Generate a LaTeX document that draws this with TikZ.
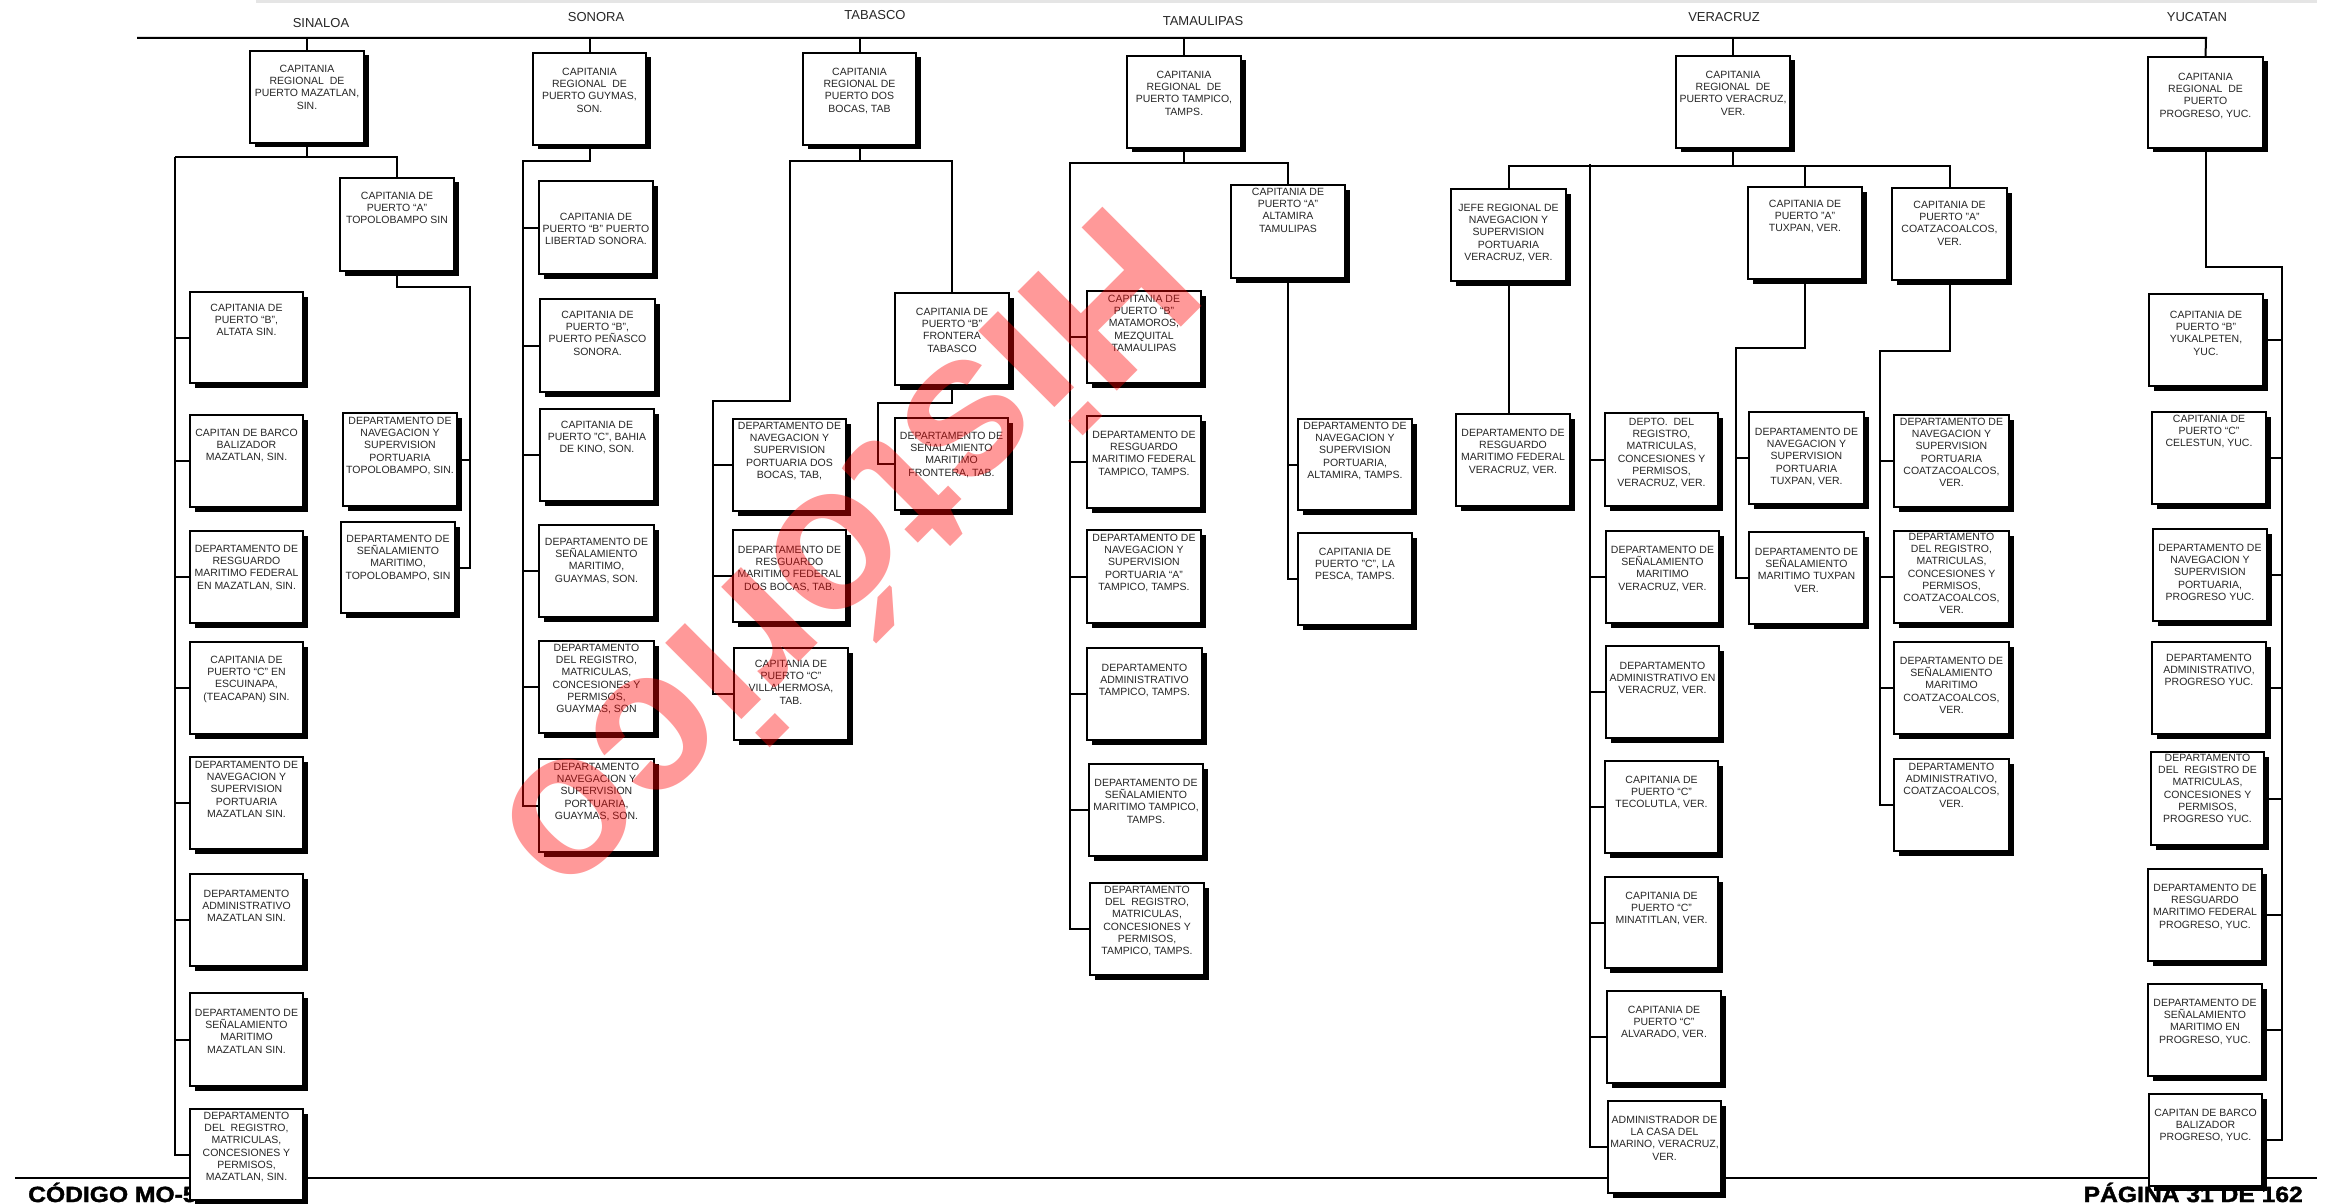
\documentclass[tikz,border=0pt]{standalone}
\usepackage{fontspec}
\setmainfont{Liberation Sans}
\usetikzlibrary{calc}
\pgfdeclarelayer{bg}
\pgfdeclarelayer{paper}
\pgfsetlayers{paper,bg,main}
\tikzset{
 boxst/.style={draw=black, line width=1.5pt, fill=white, inner sep=0pt, outer sep=0pt},
 txt/.style={font=\fontsize{10.5}{12.2}\selectfont, align=center, inner sep=0pt, text=black!85},
 conn/.style={line width=2pt, line join=miter},
 head/.style={font=\fontsize{13}{15}\selectfont, inner sep=0pt, text=black!85},
 foot/.style={font=\fontsize{22}{24}\selectfont\bfseries\addfontfeatures{FakeBold=1.6}, inner sep=0pt, xscale=1.12},
 wm/.style={rotate=-135, font=\fontsize{204}{204}\selectfont\bfseries, text=red, opacity=0.4, inner sep=0pt}
}
% #1 text pad, #2 name, #3 x1, #4 y1, #5 x2, #6 y2, #7 text
\newcommand\bx[7][14]{%
  \fill[black] ({#3+4.5},{#4+4.5}) rectangle ({#5+4.5},{#6+4.5});
  \node[boxst, anchor=north west, minimum width={(#5-#3)*1pt}, minimum height={(#6-#4)*1pt}] (#2) at (#3,#4) {};
  \node[txt, anchor=north] (#2t) at ([yshift=-#1pt]#2.north) {#7};
}
\begin{document}
\begin{tikzpicture}[x={(1pt,0)}, y={(0,-1pt)}]
\begin{pgfonlayer}{paper}
\fill[white] (0,0) rectangle (2346,1204);
\end{pgfonlayer}
\useasboundingbox (0,0) rectangle (2346,1204);

% headings
\node[head] (hsin) at (321,23) {SINALOA};
\node[head] (hson) at (596,17) {SONORA};
\node[head] (htab) at (875,15) {TABASCO};
\node[head] (htam) at (1203,21) {TAMAULIPAS};
\node[head] (hver) at (1724,17) {VERACRUZ};
\node[head] (hyuc) at (2197,17) {YUCATAN};

% ---------------- SINALOA
\bx{sinreg}{250}{51}{364}{143}{CAPITANIA\\REGIONAL\ \ DE\\PUERTO MAZATLAN,\\SIN.}
\bx{topo}{340}{178}{454}{271}{CAPITANIA DE\\PUERTO “A”\\TOPOLOBAMPO SIN}
\bx[12]{altata}{190}{292}{303}{383}{CAPITANIA DE\\PUERTO “B”,\\ALTATA SIN.}
\bx{barco}{190}{415}{303}{507}{CAPITAN DE BARCO\\BALIZADOR\\MAZATLAN, SIN.}
\bx{resmaz}{190}{531}{303}{623}{DEPARTAMENTO DE\\RESGUARDO\\MARITIMO FEDERAL\\EN MAZATLAN, SIN.}
\bx{escui}{190}{642}{303}{734}{CAPITANIA DE\\PUERTO “C” EN\\ESCUINAPA,\\(TEACAPAN) SIN.}
\bx[4]{navmaz}{190}{757}{303}{849}{DEPARTAMENTO DE\\NAVEGACION Y\\SUPERVISION\\PORTUARIA\\MAZATLAN SIN.}
\bx[16]{admmaz}{190}{874}{303}{966}{DEPARTAMENTO\\ADMINISTRATIVO\\MAZATLAN SIN.}
\bx[16]{senmaz}{190}{993}{303}{1086}{DEPARTAMENTO DE\\SEÑALAMIENTO\\MARITIMO\\MAZATLAN SIN.}
\bx[3]{regmaz}{190}{1109}{303}{1200}{DEPARTAMENTO\\DEL\ \ REGISTRO,\\MATRICULAS,\\CONCESIONES Y\\PERMISOS,\\MAZATLAN, SIN.}
\bx[4]{navtopo}{343}{413}{457}{506}{DEPARTAMENTO DE\\NAVEGACION Y\\SUPERVISION\\PORTUARIA\\TOPOLOBAMPO, SIN.}
\bx[13]{sentopo}{341}{522}{455}{613}{DEPARTAMENTO DE\\SEÑALAMIENTO\\MARITIMO,\\TOPOLOBAMPO, SIN}

% ---------------- SONORA
\bx[15]{sonreg}{533}{53}{646}{145}{CAPITANIA\\REGIONAL\ \ DE\\PUERTO GUYMAS,\\SON.}
\bx[32]{libertad}{539}{181}{653}{274}{CAPITANIA DE\\PUERTO “B” PUERTO\\LIBERTAD SONORA.}
\bx[12]{penasco}{540}{299}{655}{392}{CAPITANIA DE\\PUERTO “B”,\\PUERTO PEÑASCO\\SONORA.}
\bx[12]{kino}{540}{409}{654}{501}{CAPITANIA DE\\PUERTO "C", BAHIA\\DE KINO, SON.}
\bx[13]{sengua}{539}{525}{654}{617}{DEPARTAMENTO DE\\SEÑALAMIENTO\\MARITIMO,\\GUAYMAS, SON.}
\bx[3]{reggua}{539}{641}{654}{733}{DEPARTAMENTO\\DEL REGISTRO,\\MATRICULAS,\\CONCESIONES Y\\PERMISOS,\\GUAYMAS, SON}
\bx[4]{navgua}{539}{759}{654}{852}{DEPARTAMENTO\\NAVEGACION Y\\SUPERVISION\\PORTUARIA,\\GUAYMAS, SON.}

% ---------------- TABASCO
\bx[15]{tabreg}{803}{53}{916}{145}{CAPITANIA\\REGIONAL DE\\PUERTO DOS\\BOCAS, TAB}
\bx[15]{frontera}{895}{293}{1009}{385}{CAPITANIA DE\\PUERTO “B”\\FRONTERA\\TABASCO}
\bx{senfront}{895}{418}{1008}{510}{DEPARTAMENTO DE\\SEÑALAMIENTO\\MARITIMO\\FRONTERA, TAB.}
\bx[3]{navdos}{733}{419}{846}{511}{DEPARTAMENTO DE\\NAVEGACION Y\\SUPERVISION\\PORTUARIA DOS\\BOCAS, TAB,}
\bx[16]{resdos}{733}{530}{846}{622}{DEPARTAMENTO DE\\RESGUARDO\\MARITIMO FEDERAL\\DOS BOCAS, TAB.}
\bx[12]{villa}{734}{648}{848}{740}{CAPITANIA DE\\PUERTO “C”\\VILLAHERMOSA,\\TAB.}

% ---------------- TAMAULIPAS
\bx[15]{tamreg}{1127}{56}{1241}{148}{CAPITANIA\\REGIONAL\ \ DE\\PUERTO TAMPICO,\\TAMPS.}
\bx[3]{altamira}{1231}{185}{1345}{278}{CAPITANIA DE\\PUERTO “A”\\ALTAMIRA\\TAMULIPAS}
\bx[4]{matamoros}{1087}{291}{1201}{383}{CAPITANIA DE\\PUERTO “B”\\MATAMOROS,\\MEZQUITAL\\TAMAULIPAS}
\bx[15]{restam}{1087}{416}{1201}{508}{DEPARTAMENTO DE\\RESGUARDO\\MARITIMO FEDERAL\\TAMPICO, TAMPS.}
\bx[4]{navtam}{1087}{530}{1201}{623}{DEPARTAMENTO DE\\NAVEGACION Y\\SUPERVISION\\PORTUARIA “A”\\TAMPICO, TAMPS.}
\bx[16]{admtam}{1087}{648}{1202}{740}{DEPARTAMENTO\\ADMINISTRATIVO\\TAMPICO, TAMPS.}
\bx[15]{sentam}{1089}{764}{1203}{856}{DEPARTAMENTO DE\\SEÑALAMIENTO\\MARITIMO TAMPICO,\\TAMPS.}
\bx[3]{regtam}{1090}{883}{1204}{975}{DEPARTAMENTO\\DEL\ \ REGISTRO,\\MATRICULAS,\\CONCESIONES Y\\PERMISOS,\\TAMPICO, TAMPS.}
\bx[3]{navalt}{1298}{419}{1412}{510}{DEPARTAMENTO DE\\NAVEGACION Y\\SUPERVISION\\PORTUARIA,\\ALTAMIRA, TAMPS.}
\bx[15]{pesca}{1298}{533}{1412}{625}{CAPITANIA DE\\PUERTO "C", LA\\PESCA, TAMPS.}

% ---------------- VERACRUZ
\bx[15]{verreg}{1676}{56}{1790}{148}{CAPITANIA\\REGIONAL\ \ DE\\PUERTO VERACRUZ,\\VER.}
\bx[15]{jefe}{1451}{189}{1566}{281}{JEFE REGIONAL DE\\NAVEGACION Y\\SUPERVISION\\PORTUARIA\\VERACRUZ, VER.}
\bx[15]{resver}{1456}{414}{1570}{506}{DEPARTAMENTO DE\\RESGUARDO\\MARITIMO FEDERAL\\VERACRUZ, VER.}
\bx[5]{regver}{1605}{413}{1718}{506}{DEPTO.\ \ DEL\\REGISTRO,\\MATRICULAS,\\CONCESIONES Y\\PERMISOS,\\VERACRUZ, VER.}
\bx[15]{senver}{1606}{531}{1719}{623}{DEPARTAMENTO DE\\SEÑALAMIENTO\\MARITIMO\\VERACRUZ, VER.}
\bx[16]{admver}{1606}{646}{1719}{738}{DEPARTAMENTO\\ADMINISTRATIVO EN\\VERACRUZ, VER.}
\bx[15]{tecolutla}{1605}{761}{1718}{853}{CAPITANIA DE\\PUERTO “C”\\TECOLUTLA, VER.}
\bx[15]{minatitlan}{1605}{877}{1718}{968}{CAPITANIA DE\\PUERTO “C”\\MINATITLAN, VER.}
\bx[15]{alvarado}{1607}{991}{1721}{1083}{CAPITANIA DE\\PUERTO “C”\\ALVARADO, VER.}
\bx[15]{casa}{1608}{1101}{1721}{1193}{ADMINISTRADOR DE\\LA CASA DEL\\MARINO, VERACRUZ,\\VER.}
\bx[13]{tuxpan}{1748}{187}{1862}{279}{CAPITANIA DE\\PUERTO "A"\\TUXPAN, VER.}
\bx[16]{navtux}{1749}{412}{1864}{504}{DEPARTAMENTO DE\\NAVEGACION Y\\SUPERVISION\\PORTUARIA\\TUXPAN, VER.}
\bx[16]{sentux}{1749}{532}{1864}{624}{DEPARTAMENTO DE\\SEÑALAMIENTO\\MARITIMO TUXPAN\\VER.}
\bx[13]{coatza}{1892}{188}{2007}{280}{CAPITANIA DE\\PUERTO "A"\\COATZACOALCOS,\\VER.}
\bx[3]{navcoa}{1894}{415}{2009}{507}{DEPARTAMENTO DE\\NAVEGACION Y\\SUPERVISION\\PORTUARIA\\COATZACOALCOS,\\VER.}
\bx[2]{regcoa}{1894}{531}{2009}{623}{DEPARTAMENTO\\DEL REGISTRO,\\MATRICULAS,\\CONCESIONES Y\\PERMISOS,\\COATZACOALCOS,\\VER.}
\bx[15]{sencoa}{1894}{642}{2009}{734}{DEPARTAMENTO DE\\SEÑALAMIENTO\\MARITIMO\\COATZACOALCOS,\\VER.}
\bx[4]{admcoa}{1894}{759}{2009}{851}{DEPARTAMENTO\\ADMINISTRATIVO,\\COATZACOALCOS,\\VER.}

% ---------------- YUCATAN
\bx[16]{yucreg}{2148}{57}{2263}{148}{CAPITANIA\\REGIONAL\ \ DE\\PUERTO\\PROGRESO, YUC.}
\bx[17]{yuka}{2149}{294}{2263}{386}{CAPITANIA DE\\PUERTO “B”\\YUKALPETEN,\\YUC.}
\bx[3]{celestun}{2152}{412}{2266}{504}{CAPITANIA DE\\PUERTO “C”\\CELESTUN, YUC.}
\bx[15]{navpro}{2153}{529}{2267}{621}{DEPARTAMENTO DE\\NAVEGACION Y\\SUPERVISION\\PORTUARIA,\\PROGRESO YUC.}
\bx[12]{admpro}{2152}{642}{2266}{734}{DEPARTAMENTO\\ADMINISTRATIVO,\\PROGRESO YUC.}
\bx[2]{regpro}{2151}{752}{2264}{845}{DEPARTAMENTO\\DEL\ \ REGISTRO DE\\MATRICULAS,\\CONCESIONES Y\\PERMISOS,\\PROGRESO YUC.}
\bx[15]{respro}{2148}{869}{2262}{961}{DEPARTAMENTO DE\\RESGUARDO\\MARITIMO FEDERAL\\PROGRESO, YUC.}
\bx[15]{senpro}{2148}{984}{2262}{1076}{DEPARTAMENTO DE\\SEÑALAMIENTO\\MARITIMO EN\\PROGRESO, YUC.}
\bx[15]{barpro}{2149}{1094}{2262}{1186}{CAPITAN DE BARCO\\BALIZADOR\\PROGRESO, YUC.}

% ---------------- background: bars, footer, connectors
\begin{pgfonlayer}{bg}
\fill[black!10] (256,0) rectangle (2317,3.5);
\coordinate (topL) at (137,38);
\coordinate (topR) at (2206,38);
\coordinate (footL) at (15,1178);
\coordinate (footR) at (2317,1178);
\draw[conn] (footL) -- (footR);
\node[foot, anchor=base west] (codigo) at (28,1202) {CÓDIGO MO-5};
\node[foot, anchor=base east] (pagina) at (2303,1202) {PÁGINA 31 DE 162};
\draw[conn] (topL) -- (topR) -- (yucreg.north);
\foreach \n in {sinreg,sonreg,tabreg,tamreg,verreg}
  \draw[conn] (\n.north) -- (\n.north |- topL);

% Sinaloa
\coordinate (sinbus) at (175,157);
\coordinate (topobus) at (470,287);
\draw[conn] (sinreg.south) -- (sinreg.south |- sinbus);
\draw[conn] (sinbus) -| (topo.north);
\draw[conn] (sinbus) |- (regmaz.west);
\foreach \n in {altata,barco,resmaz,escui,navmaz,admmaz,senmaz}
  \draw[conn] (\n.west) -- (\n.west -| sinbus);
\draw[conn] (topo.south) |- (topobus) |- (sentopo.east);
\draw[conn] (navtopo.east) -- (navtopo.east -| topobus);

% Sonora
\coordinate (sonbus) at (523,161);
\draw[conn] (sonreg.south) |- (sonbus) |- (navgua.west);
\foreach \n in {libertad,penasco,kino,sengua,reggua}
  \draw[conn] (\n.west) -- (\n.west -| sonbus);

% Tabasco
\coordinate (tabL) at (790,161);
\coordinate (tabL2) at (713,401);
\coordinate (frontbus) at (878,403);
\draw[conn] (tabreg.south) |- (tabL) |- (tabL2) |- (villa.west);
\draw[conn] (tabreg.south |- tabL) -| (frontera.north);
\foreach \n in {navdos,resdos}
  \draw[conn] (\n.west) -- (\n.west -| tabL2);
\draw[conn] (frontera.south) |- (frontbus) |- (senfront.west);

% Tamaulipas
\coordinate (tamL) at (1070,163);
\draw[conn] (tamreg.south) |- (tamL) |- (regtam.west);
\draw[conn] (tamreg.south |- tamL) -| (altamira.north);
\foreach \n in {matamoros,restam,navtam,admtam,sentam}
  \draw[conn] (\n.west) -- (\n.west -| tamL);
\draw[conn] (altamira.south) |- (pesca.west);
\draw[conn] (navalt.west) -- (navalt.west -| altamira.south);

% Veracruz
\coordinate (verL) at (1509,166);
\coordinate (verV) at (1590,164);
\coordinate (tuxbus) at (1736,348);
\coordinate (coabus) at (1880,351);
\draw[conn] (verreg.south) -- (verreg.south |- verL);
\draw[conn] (jefe.north) |- (verL) -| (coatza.north);
\draw[conn] (tuxpan.north |- verL) -- (tuxpan.north);
\draw[conn] (jefe.south) -- (jefe.south |- resver.north);
\draw[conn] (verV) |- (casa.west);
\foreach \n in {regver,senver,admver,tecolutla,minatitlan,alvarado}
  \draw[conn] (\n.west) -- (\n.west -| verV);
\draw[conn] (tuxpan.south) |- (tuxbus) |- (sentux.west);
\draw[conn] (navtux.west) -- (navtux.west -| tuxbus);
\draw[conn] (coatza.south) |- (coabus) |- (admcoa.west);
\foreach \n in {navcoa,regcoa,sencoa}
  \draw[conn] (\n.west) -- (\n.west -| coabus);

% Yucatan
\coordinate (yucbus) at (2282,267);
\draw[conn] (yucreg.south) |- (yucbus) |- (barpro.east);
\foreach \n in {yuka,celestun,navpro,admpro,regpro,respro,senpro}
  \draw[conn] (\n.east) -- (\n.east -| yucbus);
\end{pgfonlayer}

% watermark
\node[wm] (wmark) at (852,562) {Histórico};
\end{tikzpicture}
\end{document}
